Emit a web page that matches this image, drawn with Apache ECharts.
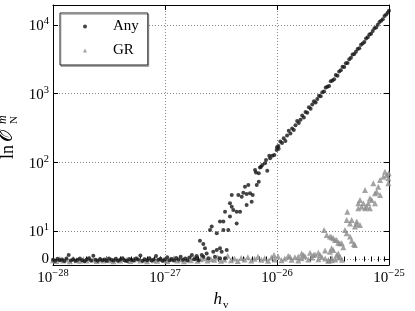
<!DOCTYPE html>
<html><head><meta charset="utf-8">
<script src="https://cdn.jsdelivr.net/npm/echarts@6/dist/echarts.min.js"></script>
<style>html,body{margin:0;padding:0;background:#fff}#c{width:415px;height:311px}</style>
</head><body><div id="c"></div>
<script>
// ---- data: [log10(h_v), ln O] ----
const xTickExps = [-28, -27, -26, -25];
const yTickValues = [0, 10, 100, 1000, 10000];
const yTickLabels = [['0', ''], ['10', '1'], ['10', '2'], ['10', '3'], ['10', '4']];
const seriesNames = ['Any', 'GR'];

const anyBase = [[-28.00,-0.3],[-27.98,-0.6],[-27.96,0.1],[-27.94,-0.4],[-27.92,-0.2],[-27.90,-0.7],[-27.88,0.2],[-27.86,1.4],[-27.84,-0.5],[-27.82,-0.1],[-27.80,-0.6],[-27.78,-0.3],[-27.76,0.2],[-27.74,-0.4],[-27.72,-0.8],[-27.70,-0.2],[-27.68,0.3],[-27.66,-0.5],[-27.64,1.2],[-27.62,-0.3],[-27.60,-0.6],[-27.58,0.0],[-27.56,-0.4],[-27.54,-0.2],[-27.52,-0.7],[-27.50,0.2],[-27.48,-0.3],[-27.46,-0.5],[-27.44,0.1],[-27.42,-0.6],[-27.40,-0.2],[-27.38,0.3],[-27.36,-0.4],[-27.34,-0.7],[-27.32,0.0],[-27.30,-0.3],[-27.28,-0.5],[-27.26,0.2],[-27.24,-0.2],[-27.22,1.3],[-27.20,-0.6],[-27.18,-0.1],[-27.16,-0.4],[-27.14,0.3],[-27.12,-0.5],[-27.10,-0.2],[-27.08,1.1],[-27.06,-0.3],[-27.04,0.1],[-27.02,-0.6],[-27.00,-0.2],[-26.98,0.6],[-26.96,-0.4],[-26.94,0.0],[-26.92,-0.5],[-26.90,0.4],[-26.88,-0.2],[-26.86,0.8],[-26.84,-0.3],[-26.82,0.2],[-26.80,-0.5],[-26.78,0.5],[-26.76,1.4],[-26.74,-0.1],[-26.72,0.3],[-26.70,-0.4]];

const anyRise = [[-26.717,1.1],[-26.688,6.5],[-26.672,1.4],[-26.658,5.4],[-26.658,0.8],[-26.643,3.8],[-26.628,2.0],[-26.613,0.3],[-26.598,10.3],[-26.583,11.6],[-26.569,2.6],[-26.554,0.8],[-26.538,9.2],[-26.538,3.2],[-26.509,13.7],[-26.509,3.8],[-26.509,0.3],[-26.494,2.6],[-26.479,13.7],[-26.479,10.3],[-26.464,19.1],[-26.464,0.3],[-26.449,3.2],[-26.435,10.3],[-26.420,25.3],[-26.420,16.2],[-26.404,33.4],[-26.404,22.6],[-26.390,20.2],[-26.360,19.1],[-26.360,12.9],[-26.345,33.4],[-26.330,19.1],[-26.315,31.6],[-26.301,36],[-26.286,44],[-26.271,34.5],[-26.271,23.9],[-26.256,46.8],[-26.241,35.4],[-26.226,26.7],[-26.217,33.4],[-26.196,77],[-26.188,71],[-26.181,46.8],[-26.163,69],[-26.163,52],[-26.152,84],[-26.143,86],[-26.131,91],[-26.107,97],[-26.098,108],[-26.087,75],[-26.069,124],[-26.062,114],[-26.042,124],[-26.024,128],[-26.003,151],[-25.988,172]];

const anyLine = [[-26.000,166],[-25.985,158],[-25.970,200],[-25.955,191],[-25.940,224],[-25.925,204],[-25.910,245],[-25.895,288],[-25.880,263],[-25.865,309],[-25.850,295],[-25.835,347],[-25.820,398],[-25.805,372],[-25.790,417],[-25.775,479],[-25.760,447],[-25.745,537],[-25.730,525],[-25.715,631],[-25.700,603],[-25.685,692],[-25.670,776],[-25.655,741],[-25.640,832],[-25.625,933],[-25.610,912],[-25.595,1047],[-25.580,1072],[-25.565,1230],[-25.550,1259],[-25.535,1288],[-25.520,1514],[-25.505,1549],[-25.490,1622],[-25.475,1862],[-25.460,1820],[-25.445,2089],[-25.430,2188],[-25.415,2455],[-25.400,2427],[-25.385,2754],[-25.370,2786],[-25.355,3162],[-25.340,3311],[-25.325,3715],[-25.310,3758],[-25.295,4074],[-25.280,4467],[-25.265,4571],[-25.250,5129],[-25.235,5370],[-25.220,5623],[-25.205,6310],[-25.190,6607],[-25.175,7244],[-25.160,7413],[-25.145,8128],[-25.130,8913],[-25.115,9120],[-25.100,10000],[-25.085,10965],[-25.070,11482],[-25.055,12023],[-25.040,13490],[-25.025,14125],[-25.010,15136],[-25.000,16000]];

const grBase = [[-28.00,-0.4],[-27.97,-0.7],[-27.94,0.0],[-27.91,-0.5],[-27.88,-0.2],[-27.85,-0.8],[-27.82,0.1],[-27.79,-0.4],[-27.76,-0.6],[-27.73,-0.1],[-27.70,-0.5],[-27.67,0.2],[-27.64,-0.3],[-27.61,-0.7],[-27.58,-0.2],[-27.55,-0.5],[-27.52,0.1],[-27.49,-0.4],[-27.46,-0.8],[-27.43,-0.1],[-27.40,-0.5],[-27.37,0.0],[-27.34,-0.3],[-27.31,-0.7],[-27.28,-0.2],[-27.25,0.2],[-27.22,-0.5],[-27.19,-0.3],[-27.16,-0.8],[-27.13,0.0],[-27.10,-0.4],[-27.07,-0.6],[-27.04,0.1],[-27.01,-0.3],[-26.98,-0.7],[-26.95,-0.1],[-26.92,0.3],[-26.89,-0.5],[-26.86,-0.2],[-26.83,-0.8],[-26.80,0.1],[-26.77,-0.4],[-26.74,0.4],[-26.71,-0.6],[-26.68,-0.1],[-26.65,0.3],[-26.62,-0.5],[-26.59,0.0],[-26.56,-0.3],[-26.53,0.5],[-26.50,-0.6],[-26.47,-0.2],[-26.44,1.2],[-26.41,-0.4],[-26.38,0.2],[-26.35,-0.7],[-26.32,0.4],[-26.29,-0.2],[-26.26,0.6],[-26.23,-0.5],[-26.20,0.1],[-26.17,0.8],[-26.14,-0.3],[-26.11,0.3],[-26.08,-0.6],[-26.05,0.5],[-26.02,-0.2],[-25.99,0.9],[-25.96,-0.4],[-25.93,0.2],[-25.90,1.1],[-25.87,-0.3],[-25.84,0.6],[-25.81,-0.5],[-25.78,0.3],[-25.75,1.0],[-25.72,-0.2],[-25.69,0.5],[-25.66,1.6],[-25.63,-0.1],[-25.60,0.7],[-25.57,0.2],[-25.54,-0.6],[-25.51,0.4],[-25.48,-0.2],[-25.45,0.5],[-25.42,-0.3]];

const grRise = [[-26.027,1.4],[-25.884,0.8],[-25.810,0.8],[-25.780,2.0],[-25.765,1.4],[-25.705,2.25],[-25.676,1.4],[-25.631,2.25],[-25.616,1.4],[-25.580,10.3],[-25.571,3.0],[-25.556,8.6],[-25.542,-0.4],[-25.527,2.6],[-25.527,8.0],[-25.512,7.8],[-25.512,3.8],[-25.512,-0.4],[-25.497,3.2],[-25.497,7.4],[-25.482,6.8],[-25.467,1.4],[-25.467,6.8],[-25.453,5.8],[-25.453,2.0],[-25.438,0.8],[-25.438,5.6],[-25.422,5.6],[-25.408,4.2],[-25.393,10.3],[-25.378,14.5],[-25.378,9.2],[-25.372,19.1],[-25.348,12.9],[-25.348,8.0],[-25.333,14.5],[-25.333,6.5],[-25.313,5.4],[-25.304,11.6],[-25.304,5.0],[-25.289,12.6],[-25.288,13.7],[-25.274,25.3],[-25.274,21.4],[-25.259,28.3],[-25.259,12.2],[-25.244,22.6],[-25.229,25.3],[-25.214,39.5],[-25.214,21.4],[-25.199,22.6],[-25.185,25.3],[-25.170,29.9],[-25.170,21.4],[-25.154,28.3],[-25.140,49.4],[-25.125,35.4],[-25.125,25.3],[-25.110,37.3],[-25.096,44.1],[-25.080,55.2],[-25.080,33.4],[-25.051,61.7],[-25.036,72.9],[-25.021,65.3],[-25.006,58.4],[-25.006,49.4],[-25.003,69]];

// ---- symlog-like y transform (linear 0..10, log above) ----
const LIN = 0.408;
function T(v) { return v <= 10 ? LIN * v / 10 : LIN + Math.log10(v / 10); }
const tr = arr => arr.map(p => [p[0], T(p[1])]);

const yTickPos = yTickValues.map(T);
const minorX = [];
for (let n = xTickExps[0]; n < xTickExps[xTickExps.length - 1]; n++) {
  for (let k = 2; k <= 9; k++) minorX.push(n + Math.log10(k));
}

const SERIF = '"Liberation Serif","DejaVu Serif",serif';
const richLab = {
  b: { fontSize: 15, fontFamily: SERIF, color: '#000', verticalAlign: 'bottom' },
  s: { fontSize: 10.5, fontFamily: SERIF, color: '#000', verticalAlign: 'bottom', padding: [0, 0, 7, 0] }
};
const X0 = xTickExps[0], X1 = xTickExps[xTickExps.length - 1];
const Y0 = -0.087, Y1 = 3.697;

const chart = echarts.init(document.getElementById('c'), null, { renderer: 'canvas' });
const baseX = {
  type: 'value', min: X0, max: X1, interval: 1,
  axisLine: { show: true, onZero: false, lineStyle: { color: '#000', width: 1 } },
  axisTick: { show: true, inside: true, length: 5, lineStyle: { color: '#000' } },
  axisLabel: { show: false },
  splitLine: { show: false }
};
const minorXAxis = pos => ({
  type: 'value', min: X0, max: X1, position: pos,
  axisLine: { show: false },
  axisTick: { show: true, inside: true, length: 2.5, customValues: minorX, lineStyle: { color: '#000' } },
  axisLabel: { show: false, customValues: minorX },
  splitLine: { show: false }
});

chart.setOption({
  animation: false,
  backgroundColor: '#fff',
  grid: { left: 53, right: 26, top: 5, bottom: 46, containLabel: false, outerBoundsMode: 'none' },
  legend: {
    data: seriesNames, orient: 'vertical', left: 60, top: 13,
    padding: [6, 9, 7, 23], itemGap: 9, itemWidth: 4, itemHeight: 4,
    backgroundColor: '#fff', borderColor: '#222', borderWidth: 1, borderRadius: 0,
    shadowColor: 'rgba(0,0,0,0.25)', shadowBlur: 0, shadowOffsetX: 1, shadowOffsetY: 1.5,
    textStyle: { fontSize: 15, fontFamily: SERIF, color: '#000', padding: [0, 0, 0, 21] }
  },
  xAxis: [
    Object.assign({}, baseX, {
      position: 'bottom',
      axisLabel: {
        show: true, margin: 3, rich: richLab,
        formatter: v => '{b|10}{s|\u2212' + Math.abs(v) + '}'
      },
      splitLine: { show: true, lineStyle: { color: '#888', type: [1, 2], width: 1 } },
      name: '{h|h}{v|v}', nameLocation: 'middle', nameGap: 21,
      nameTextStyle: {
        rich: {
          h: { fontSize: 17, fontFamily: SERIF, fontStyle: 'italic', color: '#000', verticalAlign: 'bottom' },
          v: { fontSize: 11, fontFamily: SERIF, color: '#000', verticalAlign: 'bottom', padding: [0, 0, -3, 1] }
        }
      }
    }),
    Object.assign({}, baseX, { position: 'top' }),
    minorXAxis('bottom'),
    minorXAxis('top')
  ],
  yAxis: [
    {
      type: 'value', min: Y0, max: Y1, position: 'left',
      axisLine: { show: true, onZero: false, lineStyle: { color: '#000', width: 1 } },
      axisTick: { show: true, inside: true, length: 5, customValues: yTickPos, lineStyle: { color: '#000' } },
      axisLabel: {
        show: true, margin: 4, customValues: yTickPos, rich: richLab,
        formatter: v => {
          let best = 0;
          yTickPos.forEach((p, i) => { if (Math.abs(p - v) < Math.abs(yTickPos[best] - v)) best = i; });
          const l = yTickLabels[best];
          return l[1] ? '{b|' + l[0] + '}{s|' + l[1] + '}' : '{b|' + l[0] + '}';
        }
      },
      splitLine: { show: true, lineStyle: { color: '#888', type: [1, 2], width: 1 } }
    },
    {
      type: 'value', min: Y0, max: Y1, position: 'right',
      axisLine: { show: true, onZero: false, lineStyle: { color: '#000', width: 1 } },
      axisTick: { show: true, inside: true, length: 5, customValues: yTickPos, lineStyle: { color: '#000' } },
      axisLabel: { show: false, customValues: yTickPos },
      splitLine: { show: false }
    }
  ],
  graphic: [{
    type: 'group', x: 17, y: 159, rotation: Math.PI / 2,
    children: [
      { type: 'text', x: 0, y: 0, style: { text: 'ln', font: '18px ' + SERIF, fill: '#000', textVerticalAlign: 'bottom' } },
      { type: 'text', x: 17, y: 0, style: { text: '\u{1D4AA}', font: '19px "DejaVu Sans", "DejaVu Serif", serif', fill: '#000', textVerticalAlign: 'bottom' } },
      { type: 'text', x: 35, y: -8, style: { text: 'm', font: 'italic 12px ' + SERIF, fill: '#000', textVerticalAlign: 'bottom' } },
      { type: 'text', x: 35, y: 3, style: { text: 'N', font: '11px ' + SERIF, fill: '#000', textVerticalAlign: 'bottom' } }
    ]
  }],
  series: [
    {
      name: 'GR', type: 'scatter', xAxisIndex: 0, yAxisIndex: 0,
      symbol: 'triangle', symbolSize: 6, z: 2,
      itemStyle: { color: '#8c8c8c' },
      data: tr(grBase).concat(tr(grRise))
    },
    {
      name: 'Any', type: 'scatter', xAxisIndex: 0, yAxisIndex: 0,
      symbol: 'circle', symbolSize: 4, z: 3,
      itemStyle: { color: '#151515' },
      data: tr(anyBase).concat(tr(anyRise), tr(anyLine))
    }
  ]
});
</script>
</body></html>
